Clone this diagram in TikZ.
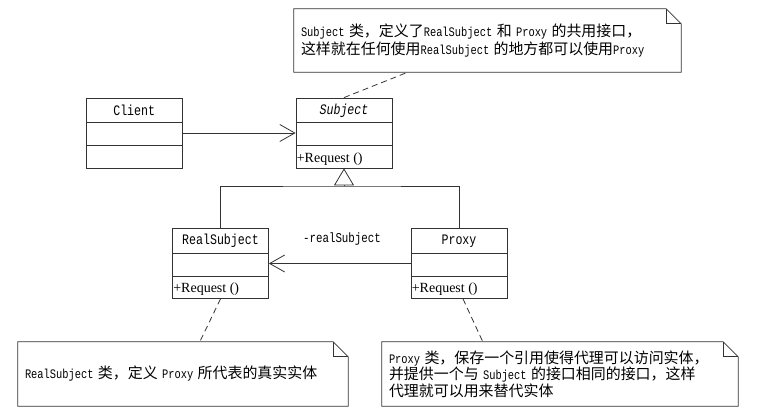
\documentclass[tikz,border=0pt]{standalone}
\usepackage{fontspec}
\setmainfont{Liberation Mono}[FakeStretch=0.8]
\newfontfamily\cjk[Scale=1.15]{Noto Sans CJK SC}
\newfontfamily\opfont{Liberation Serif}
\usetikzlibrary{arrows.meta,positioning}
\newcommand{\zh}[1]{{\cjk #1}}

\begin{document}
\begin{tikzpicture}[x=1pt,y=-1pt]
		\tikzstyle{umlclass} = [rectangle, draw=black!80, line width=0.8pt, 
		minimum width=96pt, minimum height=70pt, inner sep=0pt]
		\tikzstyle{classname} = [minimum height=25pt, inner sep=0pt, 
		font=\fontsize{14.5}{16}\selectfont]
		\tikzstyle{operation} = [inner xsep=1pt, inner ysep=3pt, 
		font=\opfont\fontsize{14}{16}\selectfont]
		\tikzstyle{note} = [rectangle, inner xsep=7pt, align=left, 
		font=\fontsize{13}{17.5}\selectfont]
		\tikzstyle{assoc} = [draw=black!80, line width=0.8pt, -{Straight Barb[length=15pt,width=17pt]}]
		\tikzstyle{inherit} = [draw=black!80, line width=0.8pt, 
		-{Triangle[open,length=17pt,width=20pt,fill=white]}]
		\tikzstyle{noteline} = [draw=black!80, line width=0.8pt, dash pattern=on 6pt off 4pt]
		\useasboundingbox (0,0) rectangle (763,416);
		% classes
		\node (subject) [umlclass] at (344,133) {};
		\node (client) [umlclass, left=113pt of subject] {};
		\node (realSubject) [umlclass] at (220.5,263.5) {};
		\node (proxy) [umlclass] at (459,263.5) {};
		\foreach \c in {client,subject,realSubject,proxy} {
			\draw [draw=black!80, line width=0.8pt] ([yshift=-25pt]\c.north west) -- ([yshift=-25pt]\c.north east);
			\draw [draw=black!80, line width=0.8pt] ([yshift=-48pt]\c.north west) -- ([yshift=-48pt]\c.north east);
		}
		\node (clientName) [classname, below=0pt of client.north] {Client};
		\node (subjectName) [classname, below=0pt of subject.north] {\itshape Subject};
		\node (realSubjectName) [classname, below=0pt of realSubject.north] {RealSubject};
		\node (proxyName) [classname, below=0pt of proxy.north] {Proxy};
		\node (subjectOp) [operation, above right=0pt of subject.south west] {+Request ()};
		\node (realSubjectOp) [operation, above right=0pt of realSubject.south west] {+Request ()};
		\node (proxyOp) [operation, above right=0pt of proxy.south west] {+Request ()};
		% notes
		\node (subjectNote) [note, text width=373pt, minimum height=63pt] at (487.5,40.5) 
		{Subject \zh{类，定义了}RealSubject \zh{和} Proxy \zh{的共用接口，}\\
			\zh{这样就在任何使用}RealSubject \zh{的地方都可以使用}Proxy};
		\node (realSubjectNote) [note, text width=316pt, minimum height=64pt] at (183,374) 
		{RealSubject \zh{类，定义} Proxy \zh{所代表的真实实体}};
		\node (proxyNote) [note, text width=342pt, minimum height=64pt] at (560,374) 
		{Proxy \zh{类，保存一个引用使得代理可以访问实体，}\\[-1pt]
			\zh{并提供一个与} Subject \zh{的接口相同的接口，这样}\\[-1pt]
			\zh{代理就可以用来替代实体}};
		\foreach \n in {subjectNote,realSubjectNote,proxyNote} {
			\draw [draw=black!80, line width=0.8pt] (\n.south west) -- (\n.north west) 
			-- ([xshift=-15pt]\n.north east) -- ([yshift=-15pt]\n.north east) -- (\n.south east) -- cycle;
			\draw [draw=black!80, line width=0.8pt] ([xshift=-15pt]\n.north east) |- ([yshift=-15pt]\n.north east);
		}
		% connectors
		\draw [assoc] (client) -- (subject);
		\coordinate (fork) at (344,186);
		\draw [draw=black!80, line width=0.8pt] (realSubject.north) |- (fork) -| (proxy.north);
		\draw [inherit] (fork) -- (subject.south);
		\draw [assoc] (proxy.west) -- (realSubject.east);
		\node (roleName) [font=\fontsize{13.5}{15}\selectfont] at (342,239) {-realSubject};
		\draw [noteline] (subject.north) -- ([xshift=114pt]subjectNote.south west);
		\draw [noteline] (realSubject.south) -- ([xshift=182pt]realSubjectNote.north west);
		\draw [noteline] ([xshift=4pt]proxy.south) -- ([xshift=101pt]proxyNote.north west);
\end{tikzpicture}
\end{document}
